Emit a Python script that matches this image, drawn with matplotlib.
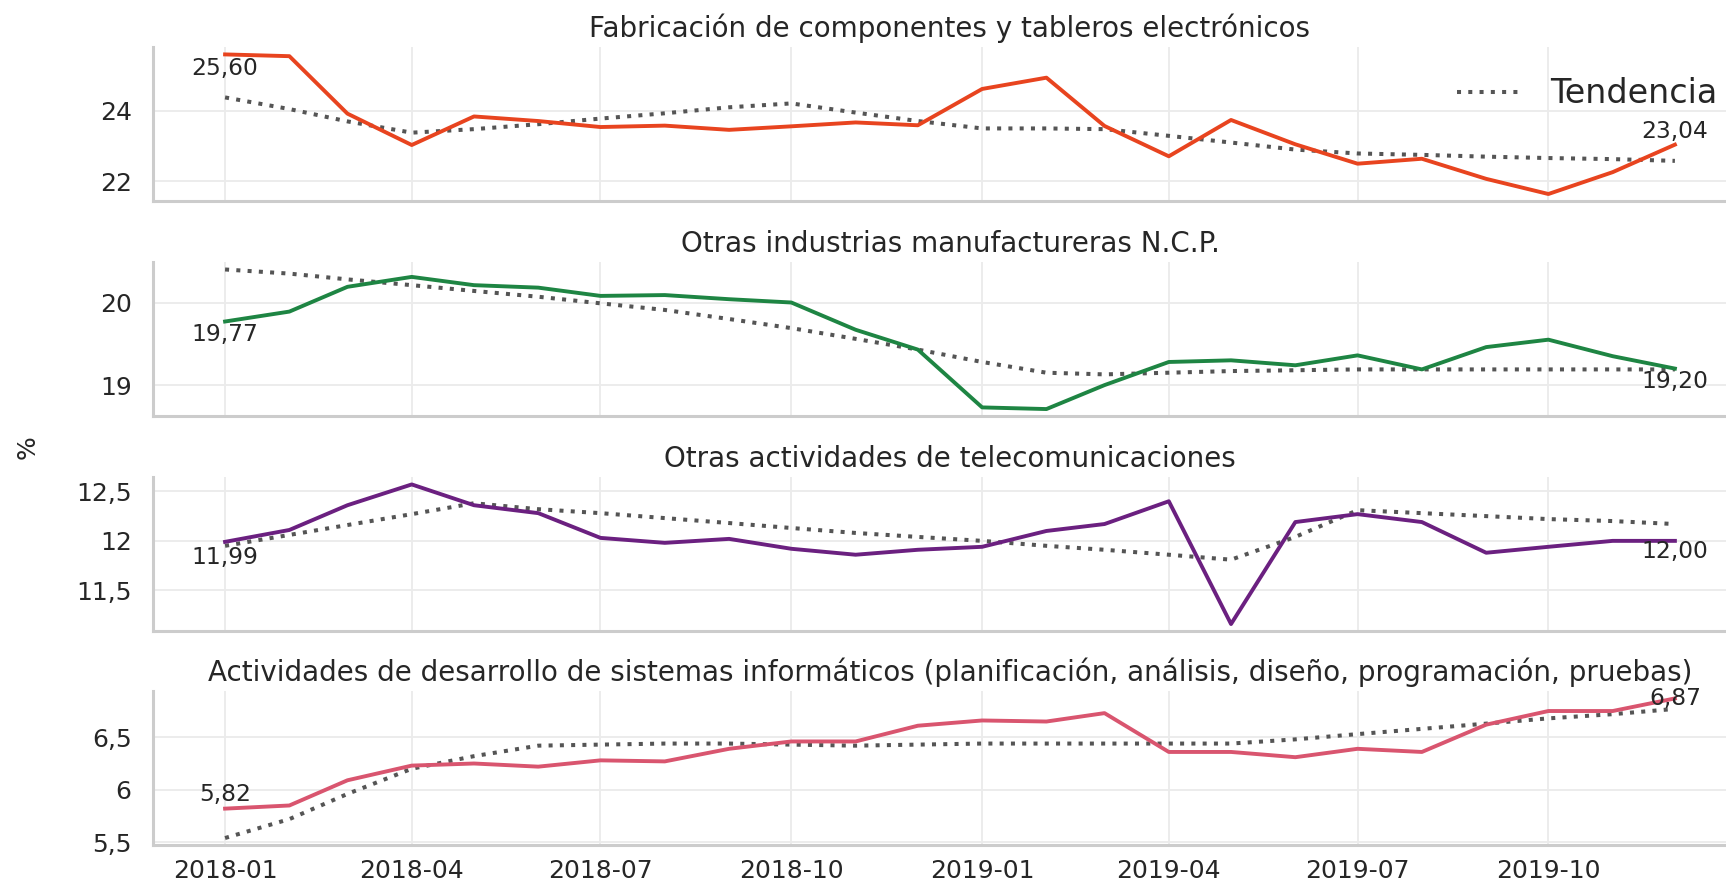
import matplotlib
matplotlib.use("Agg")
import matplotlib.pyplot as plt
import matplotlib.dates as mdates
import matplotlib.ticker as mticker
import numpy as np
import pandas as pd

plt.rcParams['font.family'] = ['DejaVu Sans']

months = pd.date_range("2018-01-01", "2019-12-01", freq="MS")

titles = [
    "Fabricación de componentes y tableros electrónicos",
    "Otras industrias manufactureras N.C.P.",
    "Otras actividades de telecomunicaciones",
    "Actividades de desarrollo de sistemas informáticos (planificación, análisis, diseño, programación, pruebas)",
]

serie_electronicos = [25.60, 25.55, 23.92, 23.03, 23.84, 23.71, 23.54, 23.58, 23.46, 23.56, 23.67, 23.59,
                      24.62, 24.94, 23.57, 22.71, 23.74, 23.05, 22.50, 22.64, 22.07, 21.64, 22.26, 23.04]
tend_electronicos = [24.38, 24.05, 23.70, 23.38, 23.48, 23.62, 23.78, 23.93, 24.10, 24.21, 23.95, 23.71,
                     23.50, 23.50, 23.48, 23.29, 23.10, 22.90, 22.79, 22.75, 22.70, 22.66, 22.63, 22.58]

serie_manufactureras = [19.77, 19.89, 20.19, 20.31, 20.21, 20.18, 20.08, 20.09, 20.04, 20.00, 19.67, 19.43,
                        18.73, 18.71, 19.00, 19.28, 19.30, 19.24, 19.36, 19.19, 19.46, 19.55, 19.35, 19.20]
tend_manufactureras = [20.40, 20.35, 20.28, 20.21, 20.14, 20.07, 19.99, 19.91, 19.80, 19.69, 19.56, 19.43,
                       19.28, 19.15, 19.13, 19.15, 19.17, 19.18, 19.19, 19.19, 19.19, 19.19, 19.19, 19.19]

serie_telecom = [11.99, 12.11, 12.36, 12.57, 12.36, 12.28, 12.03, 11.98, 12.02, 11.92, 11.86, 11.91,
                 11.94, 12.10, 12.17, 12.40, 11.16, 12.19, 12.27, 12.19, 11.88, 11.94, 12.00, 12.00]
tend_telecom = [11.95, 12.06, 12.16, 12.27, 12.38, 12.32, 12.28, 12.23, 12.18, 12.13, 12.08, 12.04,
                12.00, 11.95, 11.91, 11.86, 11.81, 12.04, 12.31, 12.28, 12.25, 12.22, 12.20, 12.17]

serie_software = [5.82, 5.85, 6.09, 6.23, 6.25, 6.22, 6.28, 6.27, 6.39, 6.46, 6.46, 6.61,
                  6.66, 6.65, 6.73, 6.36, 6.36, 6.31, 6.39, 6.36, 6.62, 6.75, 6.75, 6.87]
tend_software = [5.54, 5.72, 5.96, 6.20, 6.32, 6.42, 6.43, 6.44, 6.44, 6.43, 6.42, 6.43,
                 6.44, 6.44, 6.44, 6.44, 6.44, 6.48, 6.53, 6.58, 6.63, 6.68, 6.72, 6.77]

series = [serie_electronicos, serie_manufactureras, serie_telecom, serie_software]
trends = [tend_electronicos, tend_manufactureras, tend_telecom, tend_software]
colors = ["#E8441F", "#1E8543", "#6B2080", "#D9556F"]
ystep = [2, 1, 0.5, 0.5]
first_off = [-10, -9, -11, 10]
last_off = [9.5, -9, -8, 0]

fig = plt.figure(figsize=(17.26, 8.85), dpi=100)
left, width, height = 0.0884, 0.924, 0.1735
bottoms = [0.7729, 0.5299, 0.2870, 0.0452]
text_color = "#262626"

def fmt(v, pos=None):
    s = f"{v:.2f}".rstrip("0").rstrip(".")
    return s.replace(".", ",")

axes = []
for i in range(4):
    ax = fig.add_axes([left, bottoms[i], width, height], sharex=axes[0] if axes else None)
    axes.append(ax)
    ax.plot(months, series[i], color=colors[i], lw=2.8, zorder=3)
    ln, = ax.plot(months, trends[i], color="#555555", lw=2.9, ls=(0, (1, 1.8)), zorder=2,
                  label="Tendencia")
    ax.set_title(titles[i], fontsize=20, color=text_color, pad=7.5)
    ax.yaxis.set_major_locator(mticker.MultipleLocator(ystep[i]))
    ax.yaxis.set_major_formatter(mticker.FuncFormatter(fmt))
    ax.grid(True, color="#ebebeb", lw=1.3)
    ax.set_axisbelow(True)
    for s in ["top", "right"]:
        ax.spines[s].set_visible(False)
    for s in ["left", "bottom"]:
        ax.spines[s].set_color("#cccccc")
        ax.spines[s].set_linewidth(2.2)
    ax.tick_params(axis="both", length=0, labelsize=18, labelcolor=text_color)
    ax.tick_params(axis="y", pad=15)
    ax.tick_params(axis="x", pad=10)
    ax.annotate(f"{series[i][0]:.2f}".replace(".", ","), (months[0], series[i][0]),
                xytext=(0, first_off[i]), textcoords="offset points",
                ha="center", va="center", fontsize=16.8, color=text_color)
    ax.annotate(f"{series[i][-1]:.2f}".replace(".", ","), (months[-1], series[i][-1]),
                xytext=(0, last_off[i]), textcoords="offset points",
                ha="center", va="center", fontsize=16.8, color=text_color)
    if i < 3:
        plt.setp(ax.get_xticklabels(), visible=False)
    if i == 0:
        ax.legend(handles=[ln], loc="upper right", frameon=False, fontsize=24,
                  labelcolor=text_color)

tick_months = months[months.month.isin([1, 4, 7, 10])]
axes[0].xaxis.set_major_locator(mticker.FixedLocator(mdates.date2num(tick_months)))
axes[0].xaxis.set_major_formatter(mdates.DateFormatter("%Y-%m"))

fig.text(0.016, 0.495, "%", rotation=90, ha="center", va="center", fontsize=18, color=text_color)

fig.savefig("out.png", dpi=100)
